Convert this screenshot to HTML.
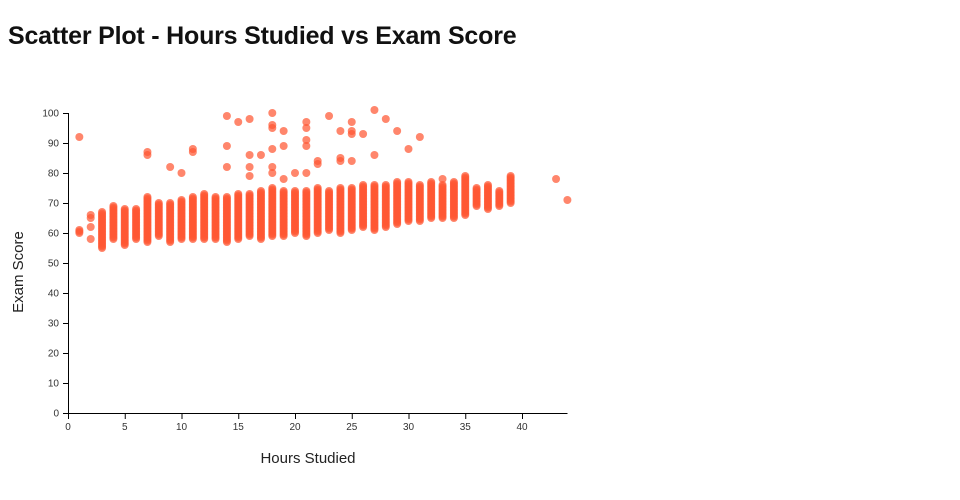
<!DOCTYPE html>
<html><head><meta charset="utf-8"><style>
body{margin:0;background:#fff;width:960px;height:500px;overflow:hidden;font-family:"Liberation Sans",sans-serif}
h1{position:absolute;left:8px;top:22px;margin:0;font-size:25px;font-weight:bold;color:#111;letter-spacing:-0.2px}
</style></head><body>
<h1>Scatter Plot - Hours Studied vs Exam Score</h1>
<svg id="s" width="960" height="500" style="position:absolute;left:0;top:0" font-family="Liberation Sans, sans-serif">
<g id="pts" fill="#ff5733" fill-opacity="0.72"></g>
<g id="ax" stroke="#000" fill="none"></g>
<g id="lbl" font-size="10" fill="#333"></g>
<text x="308" y="463" font-size="15" text-anchor="middle" fill="#222">Hours Studied</text>
<text transform="translate(23,272) rotate(-90)" font-size="15" text-anchor="middle" fill="#222">Exam Score</text>
</svg>
<script>
var X=function(h){return 68+h*11.35},Y=function(v){return 413-v*3};
var R={1:[60,61,[92]],2:[58,58,[62,65,66]],3:[55,67,[]],4:[58,69,[]],5:[56,68,[]],6:[58,68,[]],7:[57,72,[86,87]],8:[59,70,[]],9:[57,70,[82]],10:[58,71,[80]],11:[58,72,[87,88]],12:[58,73,[]],13:[58,72,[]],14:[57,72,[82,89,99]],15:[58,73,[97]],16:[59,73,[79,82,86,98]],17:[58,74,[86]],18:[59,75,[80,82,88,95,96,100]],19:[59,74,[78,89,94]],20:[60,74,[80]],21:[59,74,[80,89,91,95,97]],22:[60,75,[83,84]],23:[61,74,[99]],24:[60,75,[84,85,94]],25:[61,75,[84,93,94,97]],26:[62,76,[93]],27:[61,76,[86,101]],28:[62,76,[98]],29:[63,77,[94]],30:[64,77,[88]],31:[64,76,[92]],32:[65,77,[]],33:[65,76,[78]],34:[65,77,[]],35:[66,79,[]],36:[69,75,[]],37:[68,76,[]],38:[69,74,[]],39:[70,79,[]],43:[78,78,[]],44:[71,71,[]]};
var s='';
for(var h in R){var r=R[h];for(var v=r[0];v<=r[1];v+=0.5)s+='<circle cx="'+X(+h)+'" cy="'+Y(v)+'" r="4"/>';r[2].forEach(function(v){s+='<circle cx="'+X(+h)+'" cy="'+Y(v)+'" r="4"/>';});}
document.getElementById('pts').innerHTML=s;
var a='<path d="M68.5,113V413.5H567.5"/>',l='';
for(var v=0;v<=100;v+=10){a+='<path d="M63,'+(Y(v)+.5)+'H68"/>';l+='<text x="59" y="'+(Y(v)+3.5)+'" text-anchor="end">'+v+'</text>';}
for(var h=0;h<=40;h+=5){a+='<path d="M'+(X(h)+.5)+',413V419"/>';l+='<text x="'+X(h)+'" y="430" text-anchor="middle">'+h+'</text>';}
document.getElementById('ax').innerHTML=a;document.getElementById('lbl').innerHTML=l;
</script>
</body></html>
